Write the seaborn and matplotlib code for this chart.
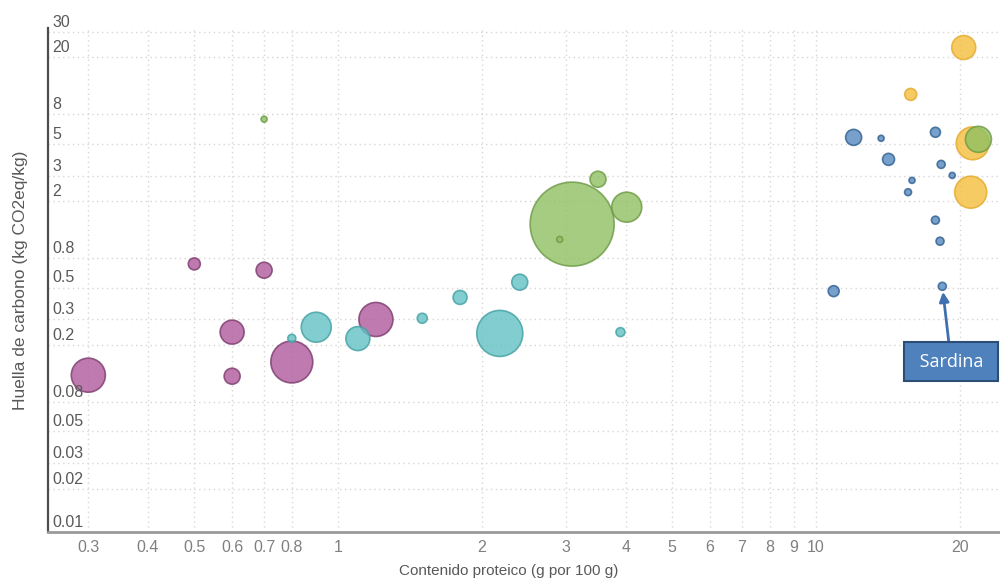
import numpy as np
import matplotlib
matplotlib.use("Agg")
import matplotlib.pyplot as plt
import matplotlib.transforms as mtransforms
import pandas as pd
import seaborn as sns

# datos (x: proteina g/100g, y: kg CO2eq/kg, tamano ~ area de burbuja)
grupo_frutas = ["Frutas"] * 7
prot_frutas = [0.30, 0.50, 0.70, 0.60, 0.60, 0.80, 1.20]
huella_frutas = [0.123, 0.73, 0.66, 0.245, 0.121, 0.152, 0.30]
tam_frutas = [290, 36, 64, 144, 64, 440, 290]

grupo_verduras = ["Verduras"] * 8
prot_verduras = [0.80, 0.90, 1.10, 1.50, 1.80, 2.18, 2.40, 3.90]
huella_verduras = [0.222, 0.265, 0.221, 0.306, 0.427, 0.24, 0.545, 0.245]
tam_verduras = [16, 225, 144, 25, 49, 530, 64, 20]

grupo_cereales = ["Cereales y legumbres"] * 6
prot_cereales = [0.70, 3.09, 3.50, 4.02, 2.91, 21.9]
huella_cereales = [7.4, 1.38, 2.83, 1.81, 1.08, 5.36]
tam_cereales = [9, 1764, 64, 225, 9, 169]

grupo_carnes = ["Carnes"] * 4
prot_carnes = [20.4, 15.8, 21.3, 21.1]
huella_carnes = [23.3, 11.0, 5.03, 2.30]
tam_carnes = [144, 36, 270, 256]

grupo_pescados = ["Pescados"] * 12
prot_pescados = [12.0, 13.7, 17.8, 14.2, 18.3, 19.3, 15.9, 15.6, 17.8, 18.2, 10.9, 18.4]
huella_pescados = [5.53, 5.45, 6.0, 3.89, 3.59, 3.01, 2.78, 2.30, 1.47, 1.05, 0.472, 0.51]
tam_pescados = [64, 9, 25, 36, 16, 9, 9, 12, 16, 16, 30, 16]

y_ticks = [0.01, 0.02, 0.03, 0.05, 0.08, 0.2, 0.3, 0.5, 0.8, 2, 3, 5, 8, 20, 30]
y_labels = ["0.01", "0.02", "0.03", "0.05", "0.08", "0.2", "0.3", "0.5", "0.8", "2", "3", "5", "8", "20", "30"]
x_ticks = [0.3, 0.4, 0.5, 0.6, 0.7, 0.8, 1, 2, 3, 4, 5, 6, 7, 8, 9, 10, 20]
x_labels = ["0.3", "0.4", "0.5", "0.6", "0.7", "0.8", "1", "2", "3", "4", "5", "6", "7", "8", "9", "10", "20"]

df = pd.DataFrame({
    "grupo": grupo_frutas + grupo_verduras + grupo_cereales + grupo_carnes + grupo_pescados,
    "proteina": prot_frutas + prot_verduras + prot_cereales + prot_carnes + prot_pescados,
    "huella": huella_frutas + huella_verduras + huella_cereales + huella_carnes + huella_pescados,
    "tamano": tam_frutas + tam_verduras + tam_cereales + tam_carnes + tam_pescados,
})
df = df.sort_values("tamano", ascending=False).reset_index(drop=True)

caras = {"Frutas": "#b05a9c", "Verduras": "#62c1c4", "Cereales y legumbres": "#8fc062",
         "Carnes": "#f5bf3c", "Pescados": "#5588c0"}
bordes = {"Frutas": "#7b3a6c", "Verduras": "#43a0a3", "Cereales y legumbres": "#6c9a44",
          "Carnes": "#e3aa2c", "Pescados": "#2f5f8f"}

sns.set_style("white")
plt.rcParams["font.family"] = ["Liberation Sans", "DejaVu Sans"]

fig = plt.figure(figsize=(10, 5.83), dpi=100)
ax = fig.add_axes([0.048, 0.0875, 0.952, 0.865])

sns.scatterplot(data=df, x="proteina", y="huella", hue="grupo", size="tamano",
                palette=caras, sizes=(0, 3656), size_norm=(0, 1764),
                edgecolor=df["grupo"].map(bordes).tolist(), linewidth=1.2,
                alpha=0.8, legend=False, ax=ax, zorder=3)

ax.set_xscale("log")
ax.set_yscale("log")
ax.set_xlim(0.247, 24.3)
ax.set_ylim(0.01, 32)

ax.set_xticks(x_ticks)
ax.set_xticklabels(x_labels)
ax.xaxis.set_minor_locator(matplotlib.ticker.NullLocator())
ax.set_yticks(y_ticks)
ax.set_yticklabels([])
ax.yaxis.set_minor_locator(matplotlib.ticker.NullLocator())
ax.tick_params(axis="x", length=0, pad=6, labelsize=11.5, labelcolor="#808080")
ax.tick_params(axis="y", length=0)

ax.grid(True, color="#d6d6d6", linestyle=(0, (1, 2.5)), linewidth=1)
ax.set_axisbelow(True)

# etiquetas del eje y dentro del area, encima de la linea de cuadricula
trans = mtransforms.blended_transform_factory(ax.transAxes, ax.transData)
for v, lab in zip(y_ticks, y_labels):
    ax.annotate(lab, xy=(0, v), xycoords=trans, xytext=(3, 1.5), textcoords="offset points",
                ha="left", va="bottom", fontsize=11.5, color="#595959")

for s in ["top", "right"]:
    ax.spines[s].set_visible(False)
ax.spines["left"].set_color("#4d4d4d")
ax.spines["left"].set_linewidth(1.6)
ax.spines["bottom"].set_color("#9a9a9a")
ax.spines["bottom"].set_linewidth(2)

ax.set_xlabel("Contenido proteico (g por 100 g)", fontsize=11, color="#595959")
ax.set_ylabel("Huella de carbono (kg CO2eq/kg)", fontsize=12.5, color="#595959")
ax.xaxis.set_label_coords(0.484, -0.064)
ax.yaxis.set_label_coords(-0.021, 0.50)

ax.annotate(" Sardina ", xy=(18.4, 0.51), xytext=(19.2, 0.152),
            ha="center", va="center", fontsize=13, color="white",
            family=["Open Sans", "DejaVu Sans"],
            bbox=dict(boxstyle="square,pad=0.58", fc="#4f81bd", ec="#2c4d75", lw=1.5),
            arrowprops=dict(arrowstyle="-|>", color="#3f6fae", lw=2, mutation_scale=14,
                            shrinkA=0, shrinkB=4),
            zorder=5, annotation_clip=False)

fig.savefig("out.png", dpi=100)
